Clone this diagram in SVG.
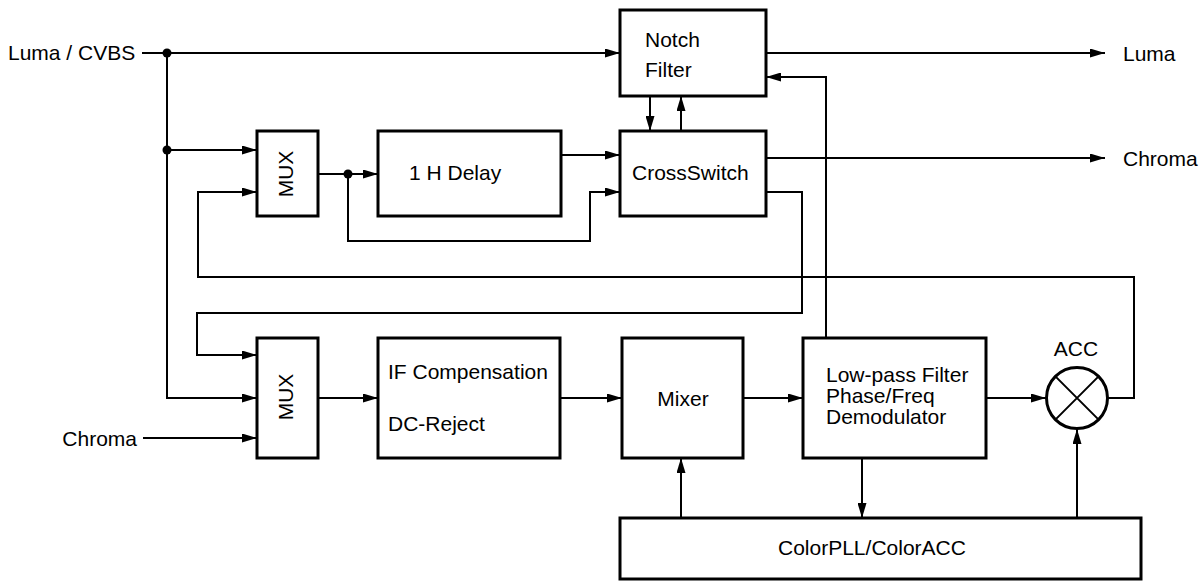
<svg xmlns="http://www.w3.org/2000/svg" width="1204" height="581" viewBox="0 0 1204 581">
<style>
.box{fill:#fff;stroke:#000;stroke-width:3}
.ln{fill:none;stroke:#000;stroke-width:2;marker-end:url(#ah)}
.pl{fill:none;stroke:#000;stroke-width:2}
text{font-family:"Liberation Sans",Arial,sans-serif;font-size:21px;fill:#000}
.m{text-anchor:middle}
</style>
<defs>
<marker id="ah" markerUnits="userSpaceOnUse" markerWidth="15" markerHeight="9" refX="15" refY="4.5" orient="auto">
<path d="M0,0 L15,4.5 L0,9 z" fill="#000"/>
</marker>
</defs>
<rect width="1204" height="581" fill="#fff"/>
<g id="connectors">
<path class="ln" d="M142,53 H620"/>
<path class="ln" d="M167,53 V398 H257"/>
<path class="ln" d="M167,150 H257"/>
<path class="ln" d="M318,174 H378"/>
<path class="ln" d="M348,174 V241 H590 V192 H620"/>
<path class="ln" d="M561,155 H620"/>
<path class="ln" d="M650,96 V131"/>
<path class="ln" d="M681,131 V96"/>
<path class="ln" d="M766,53 H1105"/>
<path class="ln" d="M766,158 H1105"/>
<path class="ln" d="M766,192 H802 V313 H197 V355 H257"/>
<path class="ln" d="M826,338 V77 H766"/>
<path class="ln" d="M1107,398 H1134 V277 H198 V192 H257"/>
<path class="ln" d="M143,438 H257"/>
<path class="ln" d="M318,398 H378"/>
<path class="ln" d="M560,398 H622"/>
<path class="ln" d="M743,398 H803"/>
<path class="ln" d="M986,398 H1046"/>
<path class="ln" d="M681,518 V458"/>
<path class="ln" d="M862,458 V518"/>
<path class="ln" d="M1077,518 V429"/>
<circle cx="167" cy="53" r="4.5"/>
<circle cx="167" cy="150" r="4.5"/>
<circle cx="348" cy="174" r="4.5"/>
</g>
<g id="in-luma"><text x="8" y="60">Luma / CVBS</text></g>
<g id="in-chroma"><text x="137" y="446" text-anchor="end">Chroma</text></g>
<g id="out-luma"><text x="1123" y="61">Luma</text></g>
<g id="out-chroma"><text x="1123" y="166">Chroma</text></g>
<g id="notch">
<rect class="box" x="620" y="10" width="146" height="86"/>
<text x="645" y="47">Notch</text>
<text x="645" y="77">Filter</text>
</g>
<g id="mux1">
<rect class="box" x="257" y="131" width="61" height="85"/>
<text class="m" transform="translate(293,174) rotate(-90)">MUX</text>
</g>
<g id="delay">
<rect class="box" x="378" y="131" width="183" height="85"/>
<text x="409" y="180">1 H Delay</text>
</g>
<g id="crossswitch">
<rect class="box" x="620" y="131" width="146" height="85"/>
<text x="632" y="180">CrossSwitch</text>
</g>
<g id="mux2">
<rect class="box" x="257" y="338" width="61" height="120"/>
<text class="m" transform="translate(293,397) rotate(-90)">MUX</text>
</g>
<g id="ifcomp">
<rect class="box" x="378" y="338" width="182" height="120"/>
<text x="388" y="379">IF Compensation</text>
<text x="388" y="431">DC-Reject</text>
</g>
<g id="mixer">
<rect class="box" x="622" y="338" width="121" height="120"/>
<text class="m" x="683" y="406">Mixer</text>
</g>
<g id="lpf">
<rect class="box" x="803" y="338" width="183" height="120"/>
<text x="826" y="382">Low-pass Filter</text>
<text x="826" y="403">Phase/Freq</text>
<text x="826" y="424">Demodulator</text>
</g>
<g id="acc">
<circle cx="1077" cy="398" r="30.5" fill="#fff" stroke="#000" stroke-width="3"/>
<path class="pl" d="M1055.4,376.4 L1098.6,419.6 M1098.6,376.4 L1055.4,419.6" stroke-width="1.5"/>
<text class="m" x="1076" y="356">ACC</text>
</g>
<g id="colorpll">
<rect class="box" x="620" y="518" width="521" height="61"/>
<text x="778" y="555">ColorPLL/ColorACC</text>
</g>
</svg>
